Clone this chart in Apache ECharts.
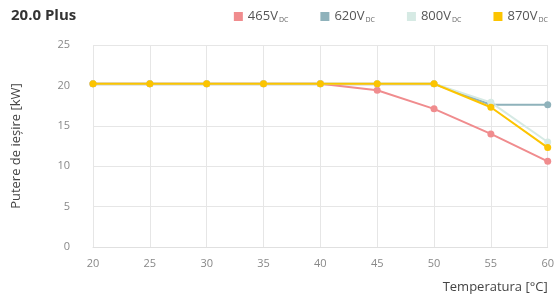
<!DOCTYPE html>
<html>
<head>
<meta charset="UTF-8">
<title>20.0 Plus</title>
<script src="https://cdn.jsdelivr.net/npm/echarts@6/dist/echarts.min.js"></script>
<style>
  html, body { margin: 0; padding: 0; background: #fff; }
  #main { width: 557px; height: 297px; }
</style>
</head>
<body>
<div id="main"></div>
<script>
// temperatures (°C)
var temps = [20, 25, 30, 35, 40, 45, 50, 55, 60];
// output power (kW) per DC voltage
var v465 = [20.2, 20.2, 20.2, 20.2, 20.2, 19.4, 17.1, 14.0, 10.6];
var v620 = [20.2, 20.2, 20.2, 20.2, 20.2, 20.2, 20.2, 17.6, 17.6];
var v800 = [20.2, 20.2, 20.2, 20.2, 20.2, 20.2, 20.2, 17.9, 13.0];
var v870 = [20.2, 20.2, 20.2, 20.2, 20.2, 20.2, 20.2, 17.3, 12.3];
var seriesNames = ['465', '620', '800', '870'];
var colors = ['#f08c8e', '#8fb2bb', '#d6eae4', '#fcc400'];

function pairs(ys) {
    return temps.map(function (t, i) { return [t, ys[i]]; });
}

var chart = echarts.init(document.getElementById('main'));
var font = '"Open Sans", Lato, sans-serif';

var option = {
    backgroundColor: '#ffffff',
    color: colors,
    textStyle: { fontFamily: font },
    title: {
        text: '20.0 Plus',
        left: 6, top: 3,
        textStyle: { fontSize: 15, fontWeight: 'bold', color: '#333', fontFamily: font }
    },
    legend: {
        right: 4, top: 5,
        itemWidth: 9, itemHeight: 9, itemGap: 32,
        icon: 'rect',
        data: seriesNames,
        formatter: function (n) { return n + 'V{sub|DC}'; },
        textStyle: {
            fontSize: 13, color: '#555', fontFamily: font, padding: [0, 0, 0, 0],
            rich: { sub: { fontSize: 7, color: '#666', verticalAlign: 'bottom', padding: [7, 0, 0, 1] } }
        }
    },
    grid: { left: 93, right: 6, top: 45, bottom: 50 },
    xAxis: {
        type: 'value',
        min: 20, max: 60, interval: 5,
        name: 'Temperatura [°C]',
        nameLocation: 'end',
        nameGap: 0,
        nameTextStyle: { fontSize: 13, color: '#444', align: 'right', verticalAlign: 'top', padding: [34, 0, 0, 0] },
        axisLine: { lineStyle: { color: '#e0e0e0' } },
        axisTick: { show: false },
        axisLabel: { fontSize: 11, color: '#888', margin: 11 },
        splitLine: { show: true, lineStyle: { color: '#e6e6e6' } }
    },
    yAxis: {
        type: 'value',
        min: 0, max: 25, interval: 5,
        name: 'Putere de ieșire [kW]',
        nameLocation: 'middle',
        nameGap: 70,
        nameTextStyle: { fontSize: 13, color: '#444' },
        axisLine: { show: false },
        axisTick: { show: false },
        axisLabel: { fontSize: 11, color: '#888', margin: 23 },
        splitLine: { show: true, lineStyle: { color: '#e6e6e6' } }
    },
    series: [v465, v620, v800, v870].map(function (d, i) {
        return {
            name: seriesNames[i],
            type: 'line',
            data: pairs(d),
            symbol: 'circle',
            symbolSize: 7,
            lineStyle: { width: 2 },
            z: 2 + (i === 3 ? 2 : 0)
        };
    })
};

chart.setOption(option);
</script>
</body>
</html>
